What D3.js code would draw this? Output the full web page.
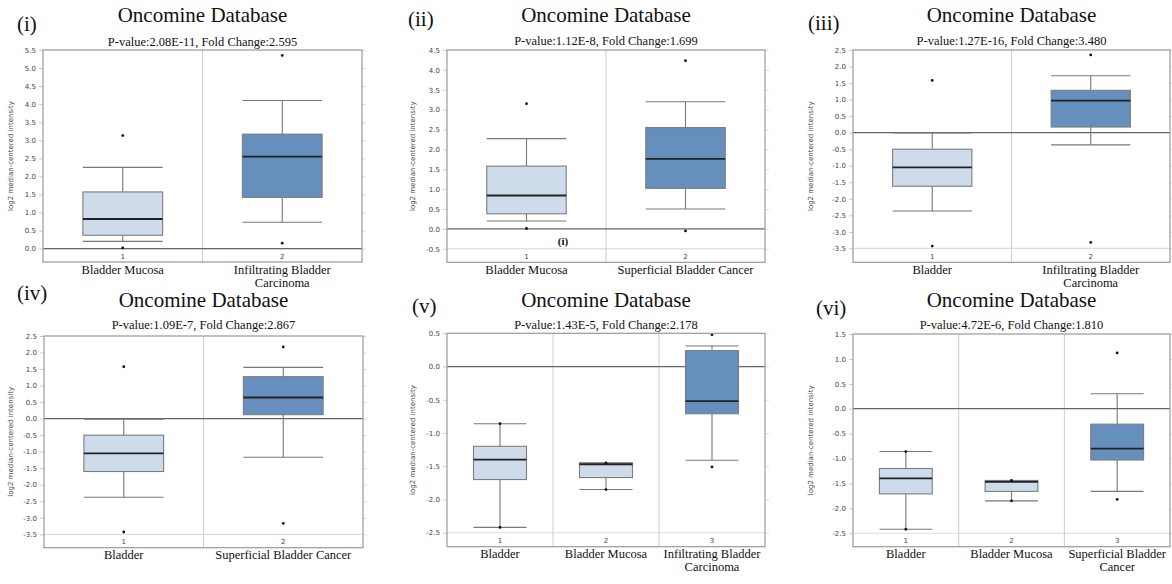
<!DOCTYPE html>
<html lang="en">
<head>
<meta charset="UTF-8" />
<title>Oncomine box plots</title>
<script src="https://d3js.org/d3.v7.min.js"></script>
<style>
  html, body { margin: 0; padding: 0; background: #fff; }
  svg { display: block; }
  .serif { font-family: "Liberation Serif", "DejaVu Serif", serif; fill: #111; }
  .sans { font-family: "DejaVu Sans", "Liberation Sans", sans-serif; fill: #444; }
</style>
</head>
<body>
<svg width="1172" height="584"></svg>
<script>
// ---- data ----
const panelLabels = ["(i)", "(ii)", "(iii)", "(iv)", "(v)", "(vi)"];

const subtitles = [
  "P-value:2.08E-11, Fold Change:2.595",
  "P-value:1.12E-8, Fold Change:1.699",
  "P-value:1.27E-16, Fold Change:3.480",
  "P-value:1.09E-7, Fold Change:2.867",
  "P-value:1.43E-5, Fold Change:2.178",
  "P-value:4.72E-6, Fold Change:1.810"
];

const categories = [
  [["Bladder Mucosa"], ["Infiltrating Bladder", "Carcinoma"]],
  [["Bladder Mucosa"], ["Superficial Bladder Cancer"]],
  [["Bladder"], ["Infiltrating Bladder", "Carcinoma"]],
  [["Bladder"], ["Superficial Bladder Cancer"]],
  [["Bladder"], ["Bladder Mucosa"], ["Infiltrating Bladder", "Carcinoma"]],
  [["Bladder"], ["Bladder Mucosa"], ["Superficial Bladder", "Cancer"]]
];

// [lower whisker, Q1, median, Q3, upper whisker]
const boxStats = [
  [[0.2, 0.37, 0.82, 1.57, 2.25], [0.73, 1.42, 2.55, 3.17, 4.1]],
  [[0.2, 0.38, 0.84, 1.58, 2.27], [0.5, 1.02, 1.76, 2.55, 3.2]],
  [[-2.37, -1.62, -1.05, -0.5, -0.01], [-0.37, 0.17, 0.97, 1.28, 1.72]],
  [[-2.38, -1.6, -1.05, -0.5, -0.02], [-1.17, 0.12, 0.64, 1.27, 1.55]],
  [[-2.42, -1.7, -1.4, -1.2, -0.86], [-1.85, -1.67, -1.47, -1.45, -1.45], [-1.41, -0.71, -0.52, 0.24, 0.31]],
  [[-2.42, -1.71, -1.4, -1.2, -0.86], [-1.85, -1.66, -1.47, -1.44, -1.44], [-1.66, -1.03, -0.8, -0.31, 0.3]]
];

const outliers = [
  [[3.13, 0.02], [5.35, 0.15]],
  [[3.15, 0.01], [4.23, -0.05]],
  [[1.58, -3.43], [2.35, -3.32]],
  [[1.57, -3.43], [2.17, -3.17]],
  [[-0.86, -2.42], [-1.45, -1.85], [0.48, -1.51]],
  [[-0.86, -2.42], [-1.44, -1.85], [1.12, -1.82]]
];

// y axis: [bottom of frame, top of frame], lowest and highest tick
const yDomains = [[-0.37, 5.5], [-0.84, 4.5], [-3.92, 2.5], [-3.905, 2.5], [-2.71, 0.5], [-2.77, 1.5]];
const yTickRange = [[0, 5.5], [-0.5, 4.5], [-3.5, 2.5], [-3.5, 2.5], [-2.5, 0.5], [-2.5, 1.5]];

const titleText = "Oncomine Database";
const yAxisTitle = "log2 median-centered intensity";

// ---- layout ----
const frames = [
  { x0: 43, x1: 362, top: 50, bottom: 262, lab: [17, 31], tb: 21.5, sb: 46, ylx: -30 },
  { x0: 447, x1: 765, top: 50, bottom: 262.3, lab: [408, 26], tb: 21.5, sb: 45, ylx: -32 },
  { x0: 853, x1: 1170, top: 50, bottom: 262.3, lab: [808, 30], tb: 21.5, sb: 45, ylx: -40 },
  { x0: 44, x1: 363, top: 336, bottom: 547.7, lab: [17, 300], tb: 306.5, sb: 328.5, ylx: -31 },
  { x0: 447, x1: 765, top: 333.3, bottom: 546.7, lab: [412, 313], tb: 306.5, sb: 328.5, ylx: -32 },
  { x0: 853, x1: 1170, top: 334, bottom: 546.7, lab: [816, 315], tb: 306.5, sb: 329, ylx: -40 }
];

const lightFill = "#cddbeb", darkFill = "#668fbd";

const svg = d3.select("svg");

frames.forEach((f, i) => {
  const g = svg.append("g");
  const cats = categories[i];
  const idx = cats.map((_, k) => String(k + 1));

  const x = d3.scaleBand().domain(idx).range([f.x0, f.x1]).paddingInner(0).paddingOuter(0);
  const y = d3.scaleLinear().domain(yDomains[i]).range([f.bottom, f.top]);
  const ticks = d3.range(yTickRange[i][0], yTickRange[i][1] + 0.001, 0.5);

  // titles
  g.append("text").attr("class", "serif")
    .attr("x", (f.x0 + f.x1) / 2).attr("y", f.tb)
    .attr("text-anchor", "middle").attr("font-size", 21)
    .text(titleText);
  g.append("text").attr("class", "serif")
    .attr("x", (f.x0 + f.x1) / 2).attr("y", f.sb)
    .attr("text-anchor", "middle").attr("font-size", 12.5)
    .text(subtitles[i]);
  g.append("text").attr("class", "serif")
    .attr("x", f.lab[0]).attr("y", f.lab[1])
    .attr("font-size", 21)
    .text(panelLabels[i]);

  // outside tick marks, left and right
  g.append("g").attr("transform", `translate(${f.x0},0)`)
    .call(d3.axisLeft(y).tickValues(ticks).tickSize(4).tickPadding(3).tickFormat(d3.format(".1f")))
    .call(a => a.select(".domain").remove())
    .call(a => a.selectAll("line").attr("stroke", "#ccc"))
    .call(a => a.selectAll("text").attr("class", "sans").attr("font-size", 7).attr("fill", "#444")
      .text(d => d3.format(".1f")(d).replace("−", "-")));
  g.append("g").attr("transform", `translate(${f.x1},0)`)
    .call(d3.axisRight(y).tickValues(ticks).tickSize(4).tickFormat(""))
    .call(a => a.select(".domain").remove())
    .call(a => a.selectAll("line").attr("stroke", "#ddd"));

  // light rule at lowest tick, separating the index row
  g.append("line")
    .attr("x1", f.x0).attr("x2", f.x1)
    .attr("y1", y(yTickRange[i][0])).attr("y2", y(yTickRange[i][0]))
    .attr("stroke", "#ddd").attr("stroke-width", 1.2);

  // category dividers
  g.selectAll(".div").data(idx.slice(1)).join("line")
    .attr("x1", d => x(d)).attr("x2", d => x(d))
    .attr("y1", f.top).attr("y2", f.bottom)
    .attr("stroke", "#ccc");

  // zero line
  g.append("line")
    .attr("x1", f.x0).attr("x2", f.x1)
    .attr("y1", y(0)).attr("y2", y(0))
    .attr("stroke", "#666").attr("stroke-width", 1.2);

  // boxes
  const bw = x.bandwidth() * 0.5;
  const boxes = g.selectAll(".box").data(boxStats[i].map((s, k) => ({ s, k, key: idx[k] })))
    .join("g");
  boxes.append("line")
    .attr("x1", d => x(d.key) + x.bandwidth() / 2).attr("x2", d => x(d.key) + x.bandwidth() / 2)
    .attr("y1", d => y(d.s[0])).attr("y2", d => y(d.s[4]))
    .attr("stroke", "#777").attr("stroke-width", 1.1);
  boxes.selectAll(".cap").data(d => [d, d].map((v, j) => ({ key: v.key, val: j ? v.s[4] : v.s[0] })))
    .join("line")
    .attr("x1", d => x(d.key) + x.bandwidth() / 2 - bw / 2)
    .attr("x2", d => x(d.key) + x.bandwidth() / 2 + bw / 2)
    .attr("y1", d => y(d.val)).attr("y2", d => y(d.val))
    .attr("stroke", "#777").attr("stroke-width", 1.1);
  boxes.append("rect")
    .attr("x", d => x(d.key) + x.bandwidth() / 2 - bw / 2)
    .attr("width", bw)
    .attr("y", d => y(d.s[3]))
    .attr("height", d => Math.max(1, y(d.s[1]) - y(d.s[3])))
    .attr("fill", d => d.k === boxStats[i].length - 1 ? darkFill : lightFill)
    .attr("stroke", "#7d7d7d").attr("stroke-width", 1.1);
  boxes.append("line")
    .attr("x1", d => x(d.key) + x.bandwidth() / 2 - bw / 2)
    .attr("x2", d => x(d.key) + x.bandwidth() / 2 + bw / 2)
    .attr("y1", d => y(d.s[2])).attr("y2", d => y(d.s[2]))
    .attr("stroke", "#222").attr("stroke-width", 1.8);

  // outliers
  outliers[i].forEach((pts, k) => {
    g.selectAll(null).data(pts).join("circle")
      .attr("cx", x(idx[k]) + x.bandwidth() / 2)
      .attr("cy", d => y(d))
      .attr("r", 1.4).attr("fill", "#111");
  });

  // frame
  g.append("rect")
    .attr("x", f.x0).attr("y", f.top)
    .attr("width", f.x1 - f.x0).attr("height", f.bottom - f.top)
    .attr("fill", "none").attr("stroke", "#999").attr("stroke-width", 1.2);

  // index numbers inside bottom strip
  g.selectAll(".idx").data(idx).join("text")
    .attr("class", "sans")
    .attr("x", d => x(d) + x.bandwidth() / 2)
    .attr("y", f.bottom - 3.5)
    .attr("text-anchor", "middle").attr("font-size", 7).attr("fill", "#555")
    .text(d => d);

  // category names
  cats.forEach((lines, k) => {
    g.append("text").attr("class", "serif")
      .attr("x", x(idx[k]) + x.bandwidth() / 2)
      .attr("y", f.bottom + 11.5)
      .attr("text-anchor", "middle").attr("font-size", 12.5)
      .selectAll("tspan").data(lines).join("tspan")
      .attr("x", x(idx[k]) + x.bandwidth() / 2)
      .attr("dy", (d, j) => j ? 13 : 0)
      .text(d => d);
  });

  // y axis title
  g.append("text").attr("class", "sans")
    .attr("transform", `translate(${f.x0 + f.ylx},${(f.top + f.bottom) / 2}) rotate(-90)`)
    .attr("text-anchor", "middle").attr("font-size", 7).attr("fill", "#444")
    .text(yAxisTitle);
});

// stray panel tag printed inside panel (ii)
svg.append("text").attr("class", "serif")
  .attr("x", 563).attr("y", 245)
  .attr("text-anchor", "middle").attr("font-size", 11).attr("font-weight", "bold")
  .text("(i)");
</script>
</body>
</html>
